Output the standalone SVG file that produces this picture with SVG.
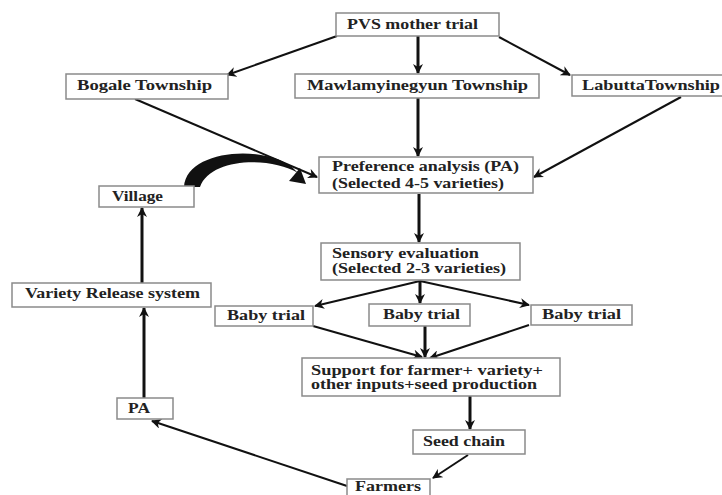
<svg xmlns="http://www.w3.org/2000/svg" width="722" height="495" viewBox="0 0 722 495">
<defs>
<marker id="ah" viewBox="0 0 10 10" refX="9" refY="5" markerWidth="10" markerHeight="10" markerUnits="userSpaceOnUse" orient="auto">
<path d="M0,0 L10,5 L0,10 L3,5 Z" fill="#111"/>
</marker>
<style>
.box{fill:#fff;stroke:#8a8a8a;stroke-width:1.5}
.t{font-family:"Liberation Serif","Times New Roman",serif;font-weight:bold;font-size:14px;fill:#222}
.c{fill:none;stroke:#111;stroke-width:2;marker-end:url(#ah)}
.ct{fill:none;stroke:#111;stroke-width:3;marker-end:url(#ah)}
</style>
</defs>
<rect width="722" height="495" fill="#fff"/>
<g id="connectors">
<line class="c" x1="337" y1="36" x2="227" y2="75"/>
<line class="ct" x1="418" y1="36" x2="418" y2="73"/>
<line class="c" x1="499" y1="37" x2="570" y2="75"/>
<line class="c" x1="135" y1="99" x2="317" y2="177"/>
<line class="ct" x1="418" y1="98" x2="418" y2="156"/>
<line class="c" x1="681" y1="97" x2="534" y2="177"/>
<line class="ct" x1="419" y1="194" x2="419" y2="242"/>
<line class="c" x1="420" y1="281" x2="315" y2="306"/>
<line class="ct" x1="420" y1="281" x2="420" y2="303"/>
<line class="c" x1="420" y1="281" x2="529" y2="305"/>
<line class="c" x1="313" y1="326" x2="422" y2="357"/>
<line class="ct" x1="425" y1="326" x2="425" y2="357"/>
<line class="c" x1="529" y1="325" x2="430" y2="358"/>
<line class="ct" x1="470" y1="396" x2="470" y2="429"/>
<line class="c" x1="468" y1="455" x2="433" y2="478"/>
<line class="c" x1="347" y1="486" x2="152" y2="421"/>
<line class="ct" x1="144" y1="398" x2="144" y2="308"/>
<line class="ct" x1="142" y1="283" x2="142" y2="208"/>
<path d="M184,187 C186,150 262,144 292,167 L298,173 C270,156 210,158 200,187 Z" fill="#111"/>
<polygon points="306,184 289,181 300,168" fill="#111"/>
</g>
<g id="pvs"><rect class="box" x="336" y="13" width="163" height="23"/><text class="t" x="347" y="29" textLength="131" lengthAdjust="spacingAndGlyphs">PVS mother trial</text></g>
<g id="bogale"><rect class="box" x="66" y="74" width="162" height="25"/><text class="t" x="77" y="90" textLength="135" lengthAdjust="spacingAndGlyphs">Bogale Township</text></g>
<g id="mawla"><rect class="box" x="295" y="74" width="244" height="24"/><text class="t" x="307" y="90" textLength="221" lengthAdjust="spacingAndGlyphs">Mawlamyinegyun Township</text></g>
<g id="labutta"><rect class="box" x="572" y="75" width="152" height="21"/><text class="t" x="582" y="90" textLength="138" lengthAdjust="spacingAndGlyphs">LabuttaTownship</text></g>
<g id="pa-main"><rect class="box" x="319" y="157" width="214" height="36"/><text class="t" x="332" y="171" textLength="187" lengthAdjust="spacingAndGlyphs">Preference analysis (PA)</text><text class="t" x="332" y="188" textLength="172" lengthAdjust="spacingAndGlyphs">(Selected 4-5 varieties)</text></g>
<g id="sensory"><rect class="box" x="321" y="243" width="199" height="37"/><text class="t" x="332" y="258" textLength="147" lengthAdjust="spacingAndGlyphs">Sensory evaluation</text><text class="t" x="332" y="273" textLength="174" lengthAdjust="spacingAndGlyphs">(Selected 2-3 varieties)</text></g>
<g id="village"><rect class="box" x="99" y="186" width="95" height="21"/><text class="t" x="112" y="201" textLength="51" lengthAdjust="spacingAndGlyphs">Village</text></g>
<g id="release"><rect class="box" x="12" y="283" width="199" height="24"/><text class="t" x="25" y="298" textLength="175" lengthAdjust="spacingAndGlyphs">Variety Release system</text></g>
<g id="baby1"><rect class="box" x="215" y="306" width="98" height="20"/><text class="t" x="227" y="320" textLength="78" lengthAdjust="spacingAndGlyphs">Baby trial</text></g>
<g id="baby2"><rect class="box" x="369" y="304" width="101" height="22"/><text class="t" x="383" y="319" textLength="77" lengthAdjust="spacingAndGlyphs">Baby trial</text></g>
<g id="baby3"><rect class="box" x="531" y="305" width="101" height="20"/><text class="t" x="542" y="319" textLength="79" lengthAdjust="spacingAndGlyphs">Baby trial</text></g>
<g id="support"><rect class="box" x="302" y="358" width="258" height="38"/><text class="t" x="311" y="375" textLength="232" lengthAdjust="spacingAndGlyphs">Support for farmer+ variety+</text><text class="t" x="311" y="389" textLength="226" lengthAdjust="spacingAndGlyphs">other inputs+seed production</text></g>
<g id="seed"><rect class="box" x="413" y="430" width="112" height="24"/><text class="t" x="423" y="446" textLength="82" lengthAdjust="spacingAndGlyphs">Seed chain</text></g>
<g id="farmers"><rect class="box" x="347" y="479" width="83" height="24"/><text class="t" x="355" y="491" font-size="12" textLength="66" lengthAdjust="spacingAndGlyphs">Farmers</text></g>
<g id="pa"><rect class="box" x="117" y="398" width="56" height="21"/><text class="t" x="128" y="413" textLength="22" lengthAdjust="spacingAndGlyphs">PA</text></g>
</svg>
